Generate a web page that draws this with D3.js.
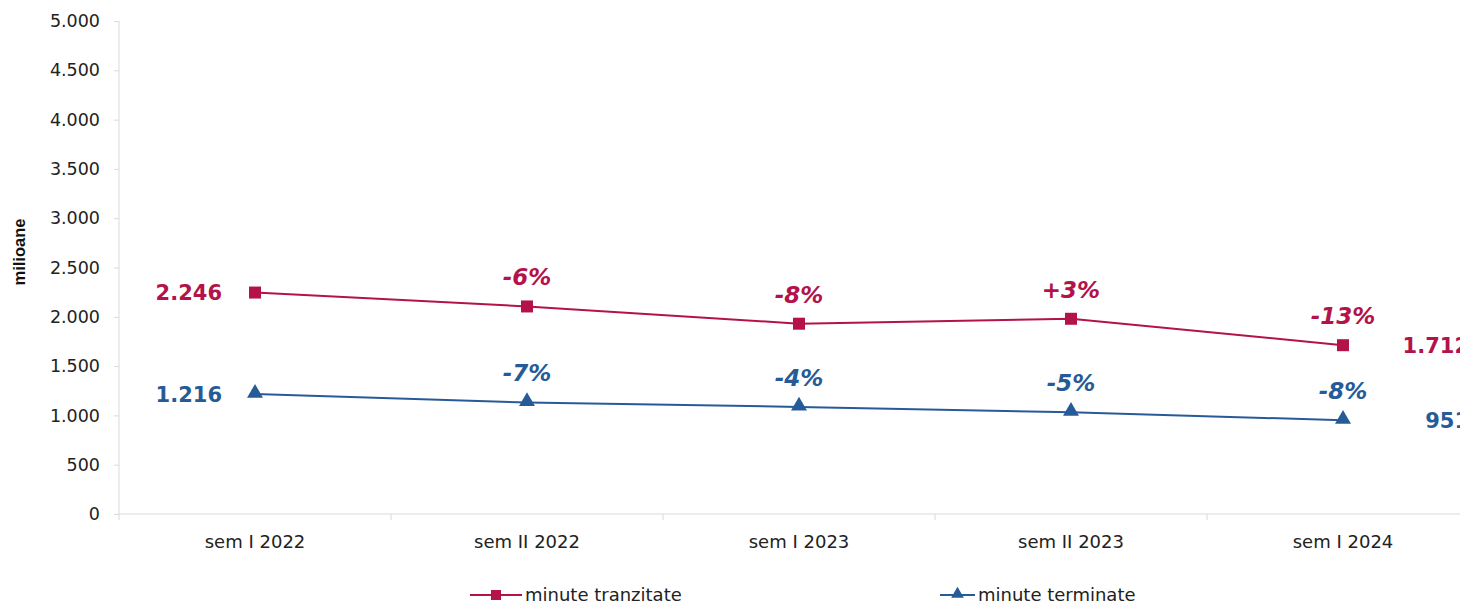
<!DOCTYPE html>
<html><head><meta charset="utf-8">
<script src="https://cdn.jsdelivr.net/npm/d3@7"></script>
<style>body{margin:0;background:#fff;overflow:hidden}</style>
</head><body>
<svg id="c" width="1460" height="606"></svg>
<script>
const categories = ["sem I 2022","sem II 2022","sem I 2023","sem II 2023","sem I 2024"];
const tranzitate = [2246, 2105, 1930, 1980, 1712];
const terminate = [1216, 1131, 1086, 1032, 951];
const pctTranzitate = [null, "-6%", "-8%", "+3%", "-13%"];
const pctTerminate = [null, "-7%", "-4%", "-5%", "-8%"];
const yTicks = [0,500,1000,1500,2000,2500,3000,3500,4000,4500,5000];
const seriesNames = ["minute tranzitate","minute terminate"];

const RED = "#B3134A", BLUE = "#275B98";
const FONT = "'DejaVu Sans',sans-serif";
const fmt = v => d3.format(",")(v).replace(/,/g, ".");

const svg = d3.select("#c");
const x = d3.scaleBand().domain(categories).range([119, 1479]).paddingInner(0).paddingOuter(0);
const y = d3.scaleLinear().domain([0, 5000]).range([514, 21]);
const cx = d => x(d) + x.bandwidth()/2;

// Y axis
const yAxis = svg.append("g").attr("transform","translate(119,0)")
  .call(d3.axisLeft(y).tickValues(yTicks).tickSize(5).tickPadding(14).tickFormat(fmt));
yAxis.select(".domain").attr("stroke","#d9d9d9").attr("d","M0,21V514");
yAxis.selectAll(".tick line").attr("stroke","#d9d9d9");
yAxis.selectAll(".tick text").attr("font-family",FONT).attr("font-size",17.5).attr("fill","#222");

// X axis
const xAxis = svg.append("g").attr("transform","translate(0,514)")
  .call(d3.axisBottom(x).tickSize(0).tickPadding(21));
xAxis.select(".domain").attr("stroke","#d9d9d9").attr("d","M119,0H1479");
xAxis.selectAll(".tick text").attr("font-family",FONT).attr("font-size",18).attr("fill","#222");
xAxis.selectAll(".bound").data(categories).enter().append("line")
  .attr("x1", d => x(d)).attr("x2", d => x(d)).attr("y1",0).attr("y2",6).attr("stroke","#d9d9d9");

// y title
svg.append("text").attr("transform","translate(25,252) rotate(-90)").attr("text-anchor","middle")
  .attr("font-family","'Liberation Sans',Arial,sans-serif").attr("font-weight","bold").attr("font-size",16.5)
  .attr("fill","#111").text("milioane");

const line = d3.line().x((d,i) => cx(categories[i])).y(d => y(d));
const tri = d3.symbol().type(d3.symbolTriangle).size(110);

function drawSeries(data, color, marker, pcts) {
  const pts = data.map((v,i) => ({v, cat: categories[i], pct: pcts[i]}));
  svg.append("path").datum(data).attr("d", line).attr("fill","none").attr("stroke",color).attr("stroke-width",2);
  if (marker === "square") {
    svg.selectAll(null).data(pts).enter().append("rect")
      .attr("x",d=>cx(d.cat)-6).attr("y",d=>y(d.v)-6).attr("width",12).attr("height",12).attr("fill",color);
  } else {
    svg.selectAll(null).data(pts).enter().append("path").attr("d",tri)
      .attr("transform",d=>`translate(${cx(d.cat)},${y(d.v)-1})`).attr("fill",color);
  }
  svg.selectAll(null).data(pts.filter(d => d.pct)).enter().append("text")
    .attr("x",d=>cx(d.cat)).attr("y",d=>y(d.v)-21).attr("text-anchor","middle")
    .attr("font-family",FONT).attr("font-weight","bold").attr("font-style","italic")
    .attr("font-size",23).attr("fill",color).text(d=>d.pct);
  // first and last value labels
  const n = data.length;
  svg.append("text").attr("x", cx(categories[0]) - 33).attr("y", y(data[0])).attr("dy","0.36em")
    .attr("text-anchor","end").attr("font-family",FONT).attr("font-weight","bold")
    .attr("font-size",21).attr("fill",color).text(fmt(data[0]));
  svg.append("text").attr("x", cx(categories[n-1]) + 126).attr("y", y(data[n-1])).attr("dy","0.36em")
    .attr("text-anchor","end").attr("font-family",FONT).attr("font-weight","bold")
    .attr("font-size",21).attr("fill",color).text(fmt(data[n-1]));
}
drawSeries(tranzitate, RED, "square", pctTranzitate);
drawSeries(terminate, BLUE, "triangle", pctTerminate);

// Legend
const lg = [{name: seriesNames[0], color: RED, m:"square", x1:470, x2:522},
            {name: seriesNames[1], color: BLUE, m:"triangle", x1:940, x2:975}];
lg.forEach(l => {
  const g = svg.append("g");
  g.append("line").attr("x1",l.x1).attr("x2",l.x2).attr("y1",595).attr("y2",595).attr("stroke",l.color).attr("stroke-width",2);
  const mx = (l.x1+l.x2)/2;
  if (l.m==="square") g.append("rect").attr("x",mx-5).attr("y",590).attr("width",10).attr("height",10).attr("fill",l.color);
  else g.append("path").attr("d",d3.symbol().type(d3.symbolTriangle).size(70)).attr("transform",`translate(${mx},594)`).attr("fill",l.color);
  g.append("text").attr("x",l.x2+3).attr("y",595).attr("dy","0.36em").attr("font-family",FONT)
    .attr("font-size",18).attr("fill","#222").text(l.name);
});
</script>
</body></html>
